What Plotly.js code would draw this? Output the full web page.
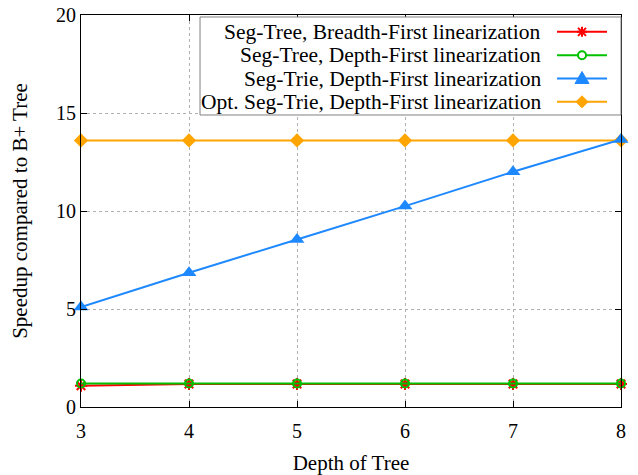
<!DOCTYPE html>
<html>
<head>
<meta charset="utf-8">
<script src="https://cdn.plot.ly/plotly-3.0.1.min.js"></script>
<style>html,body{margin:0;padding:0;background:#fff;}#chart{width:638px;height:475px;}</style>
</head>
<body>
<div id="chart"></div>
<script>
const depths = [3, 4, 5, 6, 7, 8];
const segTreeBFS = [1.08, 1.17, 1.17, 1.17, 1.17, 1.17];
const segTreeDFS = [1.2, 1.2, 1.2, 1.2, 1.2, 1.2];
const segTrieDFS = [5.1, 6.85, 8.55, 10.25, 12.0, 13.65];
const optSegTrieDFS = [13.6, 13.6, 13.6, 13.6, 13.6, 13.6];
const seriesNames = [
  "Seg-Tree, Breadth-First linearization",
  "Seg-Tree, Depth-First linearization",
  "Seg-Trie, Depth-First linearization",
  "Opt. Seg-Trie, Depth-First linearization"
];
const seriesColors = ["#ff0000", "#00c000", "#1e88ff", "#ffa500"];
const xTicks = [3, 4, 5, 6, 7, 8];
const yTicks = [0, 5, 10, 15, 20];

const font = "Liberation Serif";

const traces = [
  {x: depths, y: segTreeBFS, name: seriesNames[0], mode: "lines+markers", cliponaxis: false,
   line: {color: seriesColors[0], width: 2},
   marker: {symbol: "asterisk-open", size: 10, color: seriesColors[0], line: {color: seriesColors[0], width: 2}}},
  {x: depths, y: segTreeDFS, name: seriesNames[1], mode: "lines+markers", cliponaxis: false,
   line: {color: seriesColors[1], width: 2},
   marker: {symbol: "circle-open", size: 8, color: seriesColors[1], line: {color: seriesColors[1], width: 2}}},
  {x: depths, y: optSegTrieDFS, name: seriesNames[3], mode: "lines+markers", cliponaxis: false,
   line: {color: seriesColors[3], width: 2},
   marker: {symbol: "diamond", size: 11, color: seriesColors[3]}},
  {x: depths, y: segTrieDFS, name: seriesNames[2], mode: "lines+markers", cliponaxis: false,
   line: {color: seriesColors[2], width: 2},
   marker: {symbol: "triangle-up", size: 13, color: seriesColors[2]}}
];

// ---- custom legend (text right-aligned, sample on the right, like gnuplot) ----
const legTop = 0.957, legStep = 0.0595;
const legTextX = 0.8556, legLine0 = 0.8815, legLine1 = 0.9741, legMark = 0.9278;
const shapes = [
  {type: "rect", xref: "paper", yref: "paper", x0: 0.2204, x1: 1.0, y0: 0.7449, y1: 0.9949,
   fillcolor: "#ffffff", line: {color: "#808080", width: 1}, layer: "above"}
];
const annotations = [];
const markerPaths = [
  "M-5,0L5,0M0,-5L0,5M-4,-4L4,4M-4,4L4,-4",
  null,
  "M-7,-5L7,-5L0,7Z",
  "M0,-6L6,0L0,6L-6,0Z"
];
seriesNames.forEach((name, i) => {
  const yy = legTop - i * legStep;
  annotations.push({xref: "paper", yref: "paper", x: legTextX, y: yy, xanchor: "right", yanchor: "middle",
    text: name, showarrow: false, font: {family: font, size: 21.5, color: "#000"}});
  shapes.push({type: "line", xref: "paper", yref: "paper", x0: legLine0, x1: legLine1, y0: yy, y1: yy,
    line: {color: seriesColors[i], width: 2}, layer: "above"});
  if (i === 1) {
    shapes.push({type: "circle", xref: "paper", yref: "paper", xsizemode: "pixel", ysizemode: "pixel",
      xanchor: legMark, yanchor: yy, x0: -4, x1: 4, y0: -4, y1: 4,
      fillcolor: "#ffffff", line: {color: seriesColors[i], width: 2}, layer: "above"});
  } else {
    const filled = i !== 0;
    shapes.push({type: "path", xref: "paper", yref: "paper", xsizemode: "pixel", ysizemode: "pixel",
      xanchor: legMark, yanchor: yy, path: markerPaths[i],
      fillcolor: filled ? seriesColors[i] : "rgba(0,0,0,0)",
      line: {color: seriesColors[i], width: filled ? 1 : 2}, layer: "above"});
  }
});

const layout = {
  width: 638, height: 475,
  margin: {l: 81, r: 17, t: 15, b: 68},
  paper_bgcolor: "#fff", plot_bgcolor: "#fff",
  font: {family: font, size: 20, color: "#000"},
  showlegend: false,
  shapes: shapes,
  annotations: annotations,
  xaxis: {
    range: [3, 8], tickvals: xTicks, ticktext: xTicks.map(String),
    showgrid: true, gridcolor: "#b0b0b0", griddash: "dot", gridwidth: 1,
    zeroline: false, showline: true, linecolor: "#000", linewidth: 1, mirror: "ticks",
    ticks: "inside", ticklen: 6, tickcolor: "#000", ticklabelstandoff: 6,
    tickfont: {family: font, size: 20},
    title: {text: "Depth of Tree", font: {family: font, size: 21}, standoff: 14}
  },
  yaxis: {
    range: [0, 20], tickvals: yTicks, ticktext: yTicks.map(String),
    showgrid: true, gridcolor: "#b0b0b0", griddash: "dot", gridwidth: 1,
    zeroline: false, showline: true, linecolor: "#000", linewidth: 1, mirror: "ticks",
    ticks: "inside", ticklen: 6, tickcolor: "#000",
    tickfont: {family: font, size: 20},
    title: {text: "Speedup compared to B+ Tree", font: {family: font, size: 21}, standoff: 22}
  }
};

Plotly.newPlot("chart", traces, layout, {displayModeBar: false, staticPlot: true});
</script>
</body>
</html>
